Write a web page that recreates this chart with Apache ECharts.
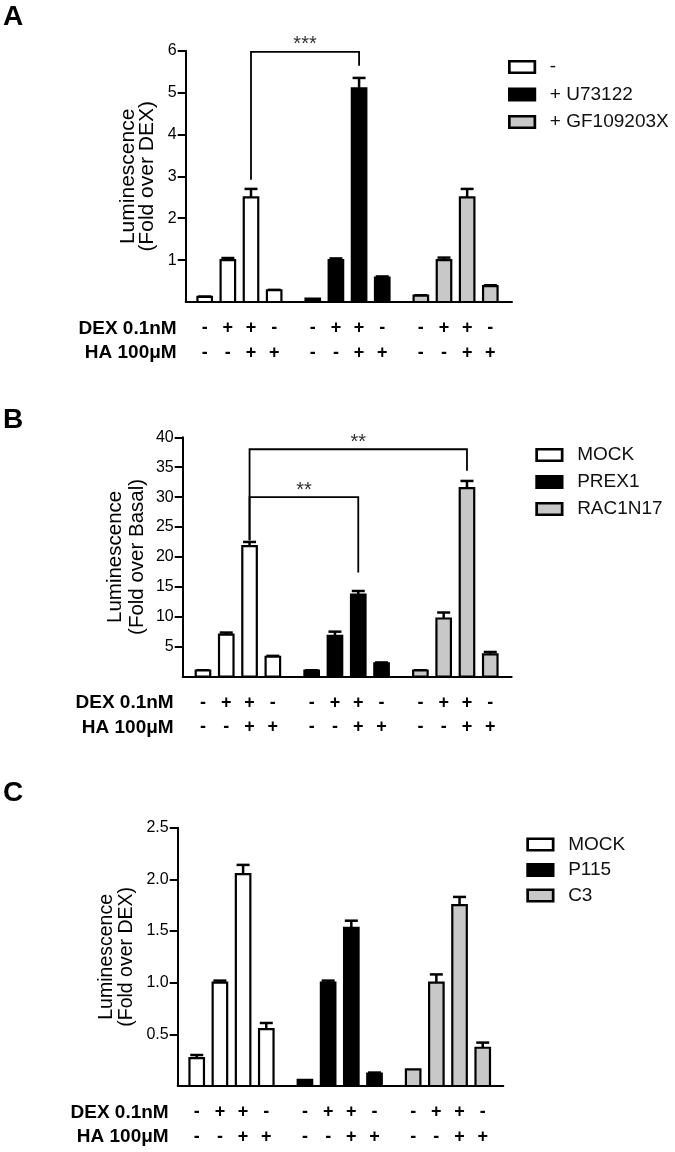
<!DOCTYPE html>
<html><head><meta charset="utf-8">
<script src="https://cdn.jsdelivr.net/npm/echarts@6/dist/echarts.min.js"></script>
<style>html,body{margin:0;padding:0;background:#fff;}#c{width:675px;height:1152px;}</style>
</head><body><div id="c"></div>
<script>
// ---------- DATA ----------
const dexSigns = ['-', '+', '+', '-'];
const haSigns  = ['-', '-', '+', '+'];
const rowLabels = ['DEX 0.1nM', 'HA 100\u03bcM'];

// Panel A
const namesA = ['-', '+ U73122', '+ GF109203X'];
const valsA_ctrl = [0.12, 1.0, 2.5, 0.28];
const errA_ctrl  = [0.01, 0.05, 0.2, 0.01];
const valsA_u73  = [0.08, 1.0, 5.1, 0.58];
const errA_u73   = [0.0, 0.04, 0.25, 0.03];
const valsA_gf   = [0.15, 1.0, 2.5, 0.38];
const errA_gf    = [0.01, 0.06, 0.2, 0.02];
const ticksA = [1, 2, 3, 4, 5, 6];
const titleA = 'Luminescence\n(Fold over DEX)';
const sigA = [{a: [0, 2], b: [1, 2], y: 5.97, ya: 2.92, yb: 5.64, text: '***'}];

// Panel B
const namesB = ['MOCK', 'PREX1', 'RAC1N17'];
const valsB_mock = [1.0, 7.0, 21.8, 3.3];
const errB_mock  = [0.05, 0.35, 0.7, 0.15];
const valsB_prex = [1.0, 6.8, 13.7, 2.2];
const errB_prex  = [0.05, 0.7, 0.6, 0.15];
const valsB_rac  = [1.0, 9.7, 31.5, 3.7];
const errB_rac   = [0.05, 1.0, 1.2, 0.4];
const ticksB = [5, 10, 15, 20, 25, 30, 35, 40];
const titleB = 'Luminescence\n(Fold over Basal)';
const sigB = [
  {a: [0, 2], b: [2, 2], y: 38.0, ya: 22.8, yb: 34.4, text: '**'},
  {a: [0, 2], b: [1, 2], y: 30.0, ya: 22.8, yb: 17.4, text: '**'}
];

// Panel C
const namesC = ['MOCK', 'P115', 'C3'];
const valsC_mock = [0.27, 1.0, 2.05, 0.55];
const errC_mock  = [0.03, 0.02, 0.09, 0.06];
const valsC_p115 = [0.06, 1.0, 1.53, 0.12];
const errC_p115  = [0.0, 0.02, 0.07, 0.01];
const valsC_c3   = [0.16, 1.0, 1.75, 0.37];
const errC_c3    = [0.0, 0.08, 0.08, 0.05];
const ticksC = [0.5, 1.0, 1.5, 2.0, 2.5];
const titleC = 'Luminescence\n(Fold over DEX)';
const sigC = [];

// ---------- STYLE / LAYOUT ----------
const FONT = '"Liberation Sans", Arial, Helvetica, sans-serif';
const fills = ['#ffffff', '#000000', '#c8c8c8'];
const GROUP_STEP = 14, BAR_STEP = 3;
const BAR_W = 14.5, CAP = 6.5;

const panels = [
  {letter: 'A', letterTop: 3, names: namesA, vals: [valsA_ctrl, valsA_u73, valsA_gf], errs: [errA_ctrl, errA_u73, errA_gf],
   ticks: ticksA, ymax: 6, interval: 1, title: titleA, sig: sigA,
   grid: {left: 185.7, top: 50.7, width: 326.3, height: 251.3}, xmin: -2.46, xmax: 39.81,
   titleSize: 21, titleLH: 19, nameGap: 29, fmt: v => String(v),
   legend: {left: 508, top: 57.5, gap: 8.5}},
  {letter: 'B', letterTop: 406, names: namesB, vals: [valsB_mock, valsB_prex, valsB_rac], errs: [errB_mock, errB_prex, errB_rac],
   ticks: ticksB, ymax: 40, interval: 5, title: titleB, sig: sigB,
   grid: {left: 182.7, top: 437.3, width: 329, height: 239.2}, xmin: -2.61, xmax: 39.76,
   titleSize: 20.5, titleLH: 22, nameGap: 34, fmt: v => String(v),
   legend: {left: 535.3, top: 445.5, gap: 8}},
  {letter: 'C', letterTop: 779, names: namesC, vals: [valsC_mock, valsC_p115, valsC_c3], errs: [errC_mock, errC_p115, errC_c3],
   ticks: ticksC, ymax: 2.5, interval: 0.5, title: titleC, sig: sigC,
   grid: {left: 177.7, top: 827.7, width: 325.6, height: 258.3}, xmin: -2.46, xmax: 39.66,
   titleSize: 19.5, titleLH: 20, nameGap: 41.5, fmt: v => v.toFixed(1),
   legend: {left: 526.3, top: 835, gap: 6.5}}
];

function barRenderer(g, color) {
  return function (params, api) {
    const i = api.value(0), v = api.value(1), e = api.value(2);
    const xu = g * GROUP_STEP + i * BAR_STEP;
    const base = api.coord([xu, 0]);
    const top = api.coord([xu, v]);
    const et = api.coord([xu, v + e]);
    const ch = [];
    if (e > 0) {
      ch.push({type: 'line', shape: {x1: top[0], y1: top[1], x2: top[0], y2: et[1]}, style: {stroke: '#000', lineWidth: 2.5}});
      ch.push({type: 'line', shape: {x1: top[0] - CAP, y1: et[1], x2: top[0] + CAP, y2: et[1]}, style: {stroke: '#000', lineWidth: 2.5}});
    }
    ch.push({type: 'rect', shape: {x: base[0] - BAR_W / 2, y: top[1], width: BAR_W, height: base[1] - top[1]},
             style: {fill: color, stroke: '#000', lineWidth: 2.2}});
    return {type: 'group', children: ch};
  };
}

function annotRenderer(P) {
  return function (params, api) {
    const ch = [];
    for (let g = 0; g < 3; g++) {
      for (let i = 0; i < 4; i++) {
        const p = api.coord([g * GROUP_STEP + i * BAR_STEP, 0]);
        ch.push({type: 'text', style: {text: dexSigns[i], x: p[0], y: p[1] + 26.5, align: 'center', verticalAlign: 'middle',
                 fontSize: 18, fontWeight: 'bold', fontFamily: FONT, fill: '#000'}});
        ch.push({type: 'text', style: {text: haSigns[i], x: p[0], y: p[1] + 51, align: 'center', verticalAlign: 'middle',
                 fontSize: 18, fontWeight: 'bold', fontFamily: FONT, fill: '#000'}});
      }
    }
    const o = api.coord([P.xmin, 0]);
    ch.push({type: 'text', style: {text: rowLabels[0], x: o[0] - 9, y: o[1] + 26.5, align: 'right', verticalAlign: 'middle',
             fontSize: 19, fontWeight: 'bold', fontFamily: FONT, fill: '#000'}});
    ch.push({type: 'text', style: {text: rowLabels[1], x: o[0] - 9, y: o[1] + 51, align: 'right', verticalAlign: 'middle',
             fontSize: 19, fontWeight: 'bold', fontFamily: FONT, fill: '#000'}});
    P.sig.forEach(s => {
      const xa = s.a[0] * GROUP_STEP + s.a[1] * BAR_STEP;
      const xb = s.b[0] * GROUP_STEP + s.b[1] * BAR_STEP;
      const pa = api.coord([xa, s.y]), pb = api.coord([xb, s.y]);
      const pa2 = api.coord([xa, s.ya]), pb2 = api.coord([xb, s.yb]);
      ch.push({type: 'polyline', shape: {points: [[pa2[0], pa2[1]], [pa[0], pa[1]], [pb[0], pb[1]], [pb2[0], pb2[1]]]},
               style: {stroke: '#000', lineWidth: 1.8, fill: null}});
      ch.push({type: 'text', style: {text: s.text, x: (pa[0] + pb[0]) / 2, y: pa[1] - 7, align: 'center', verticalAlign: 'middle',
               fontSize: 20, fontFamily: FONT, fill: '#333'}});
    });
    return {type: 'group', children: ch};
  };
}

const option = {
  animation: false,
  backgroundColor: '#fff',
  grid: [], xAxis: [], yAxis: [], series: [], legend: [],
  graphic: []
};

panels.forEach((P, p) => {
  option.grid.push(Object.assign({containLabel: false}, P.grid));
  option.xAxis.push({type: 'value', gridIndex: p, min: P.xmin, max: P.xmax,
    axisLine: {show: true, onZero: false, lineStyle: {color: '#000', width: 2}},
    axisTick: {show: false}, axisLabel: {show: false}, splitLine: {show: false}});
  option.yAxis.push({type: 'value', gridIndex: p, min: 0, max: P.ymax, interval: P.interval,
    axisLine: {show: true, onZero: false, lineStyle: {color: '#000', width: 2}},
    axisTick: {show: true, length: 8, customValues: P.ticks, lineStyle: {color: '#000', width: 2}},
    axisLabel: {customValues: P.ticks, formatter: P.fmt, margin: 9, fontSize: 16, color: '#000', fontFamily: FONT},
    splitLine: {show: false},
    name: P.title, nameLocation: 'middle', nameRotate: 90, nameGap: P.nameGap, nameMoveOverlap: false,
    nameTextStyle: {fontSize: P.titleSize, lineHeight: P.titleLH, color: '#000', fontFamily: FONT, align: 'center'}});
  P.names.forEach((n, g) => {
    option.series.push({type: 'custom', name: n, xAxisIndex: p, yAxisIndex: p, clip: false, silent: true,
      itemStyle: {color: fills[g], borderColor: '#000', borderWidth: 2},
      encode: {x: 0, y: 1},
      data: P.vals[g].map((v, i) => [i, v, P.errs[g][i]]),
      renderItem: barRenderer(g, fills[g])});
  });
  option.series.push({type: 'custom', xAxisIndex: p, yAxisIndex: p, clip: false, silent: true,
    encode: {x: 0, y: 1}, data: [[0, 0]], renderItem: annotRenderer(P)});
  option.legend.push({orient: 'vertical', left: P.legend.left, top: P.legend.top, itemGap: P.legend.gap, padding: 0,
    itemWidth: 25.5, itemHeight: 11.5, icon: 'rect', selectedMode: false,
    data: P.names.map((n, g) => ({name: n, itemStyle: {color: fills[g], borderColor: '#000', borderWidth: 2.7}})),
    textStyle: {fontSize: 19, lineHeight: 19, color: '#111', fontFamily: FONT, padding: [0, 0, 0, 10]}});
  option.graphic.push({type: 'text', left: 3, top: P.letterTop,
    style: {text: P.letter, fontSize: 28, fontWeight: 'bold', fontFamily: FONT, fill: '#000'}});
});

const chart = echarts.init(document.getElementById('c'), null, {renderer: 'canvas'});
chart.setOption(option);
</script>
</body></html>
